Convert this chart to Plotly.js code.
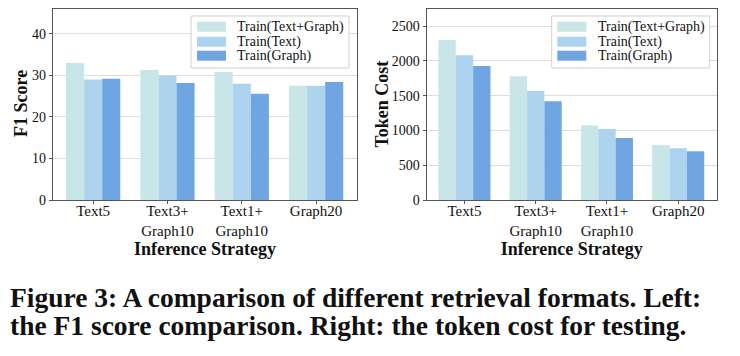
<!DOCTYPE html>
<html>
<head>
<meta charset="utf-8">
<script src="https://cdn.plot.ly/plotly-3.0.1.min.js"></script>
<style>html,body{margin:0;padding:0;background:#fff;}#chart{width:740px;height:356px;}</style>
</head>
<body>
<div id="chart"></div>
<script>
const categories = ["Text5", "Text3+<br>Graph10", "Text1+<br>Graph10", "Graph20"];
const seriesNames = ["Train(Text+Graph)", "Train(Text)", "Train(Graph)"];
const seriesColors = ["#c8e6e7", "#aed3ee", "#6fa6e2"];
const f1TextGraph = [33.0, 31.3, 30.8, 27.5];
const f1Text = [29.0, 30.0, 28.0, 27.5];
const f1Graph = [29.2, 28.2, 25.6, 28.4];
const tokenTextGraph = [2300, 1780, 1075, 790];
const tokenText = [2080, 1565, 1020, 745];
const tokenGraph = [1925, 1420, 890, 702];
const yTitles = ["F1 Score", "Token Cost"];
const xTitle = "Inference Strategy";
const captionLines = [
  "Figure 3: A comparison of different retrieval formats. Left:",
  "the F1 score comparison. Right: the token cost for testing."
];

const serif = "Liberation Serif, Times New Roman, serif";
const W = 740, H = 356;
const px = x => x / W, py = y => 1 - y / H;

const f1Series = [f1TextGraph, f1Text, f1Graph];
const tokSeries = [tokenTextGraph, tokenText, tokenGraph];
const traces = [];
f1Series.forEach((vals, i) => traces.push({
  type: "bar", x: categories, y: vals, name: seriesNames[i],
  marker: {color: seriesColors[i]}, xaxis: "x", yaxis: "y", showlegend: false
}));
tokSeries.forEach((vals, i) => traces.push({
  type: "bar", x: categories, y: vals, name: seriesNames[i],
  marker: {color: seriesColors[i]}, xaxis: "x2", yaxis: "y2", showlegend: false
}));

const axisCommon = {
  showline: true, mirror: true, linecolor: "#555", linewidth: 1.2,
  ticks: "outside", ticklen: 3, tickcolor: "#555", zeroline: false
};
const xCommon = Object.assign({}, axisCommon, {
  type: "category", showgrid: false, range: [-0.54, 3.55],
  tickfont: {family: serif, size: 15, color: "#111"}, ticklabelstandoff: -6,
  title: {text: "<b>" + xTitle + "</b>", font: {family: serif, size: 18, color: "#111"}, standoff: 2}
});
const yCommon = Object.assign({}, axisCommon, {
  showgrid: true, gridcolor: "#dddddd", gridwidth: 1,
  tickfont: {family: serif, size: 14, color: "#111"}
});

const shapes = [], annotations = [];
function legend(x0, swX, txtX) {
  shapes.push({type: "rect", xref: "paper", yref: "paper", x0: px(x0), x1: px(x0 + 158), y0: py(68), y1: py(16),
    line: {color: "#d0d0d0", width: 1}, fillcolor: "rgba(255,255,255,0.9)", layer: "above"});
  const rows = [26.7, 41.7, 55.7];
  seriesNames.forEach((n, i) => {
    shapes.push({type: "rect", xref: "paper", yref: "paper", x0: px(swX), x1: px(swX + 29),
      y0: py(rows[i] + 5), y1: py(rows[i] - 5), line: {width: 0}, fillcolor: seriesColors[i], layer: "above"});
    annotations.push({xref: "paper", yref: "paper", x: px(txtX), y: py(rows[i]), xanchor: "left", yanchor: "middle",
      text: n, showarrow: false, font: {family: serif, size: 14, color: "#111"}});
  });
}
legend(191, 197, 235);
legend(551.7, 557.3, 595.5);

[[21, 104], [381.5, 104]].forEach((p, i) => annotations.push({
  xref: "paper", yref: "paper", x: px(p[0]), y: py(p[1]), xanchor: "center", yanchor: "middle",
  textangle: -90, text: "<b>" + yTitles[i] + "</b>", showarrow: false,
  font: {family: serif, size: 18, color: "#111"}
}));

captionLines.forEach((t, i) => annotations.push({
  xref: "paper", yref: "paper", x: px(8), y: py([297, 325][i]), xanchor: "left", yanchor: "middle",
  text: "<b>" + t + "</b>", showarrow: false,
  font: {family: serif, size: 27.5, color: "#111"}
}));

const layout = {
  width: W, height: H, margin: {l: 0, r: 0, t: 0, b: 0},
  paper_bgcolor: "#fff", plot_bgcolor: "#fff",
  barmode: "group", bargap: 0.27, bargroupgap: 0,
  showlegend: false,
  xaxis: Object.assign({}, xCommon, {domain: [px(53), px(357)], anchor: "y"}),
  xaxis2: Object.assign({}, xCommon, {domain: [px(426.7), px(716.7)], anchor: "y2", range: [-0.53, 3.54]}),
  yaxis: Object.assign({}, yCommon, {domain: [py(200), py(9)], anchor: "x", range: [0, 46], dtick: 10}),
  yaxis2: Object.assign({}, yCommon, {domain: [py(200), py(9)], anchor: "x2", range: [0, 2745], dtick: 500}),
  shapes: shapes, annotations: annotations
};

Plotly.newPlot("chart", traces, layout, {displayModeBar: false, staticPlot: true});
</script>
</body>
</html>
